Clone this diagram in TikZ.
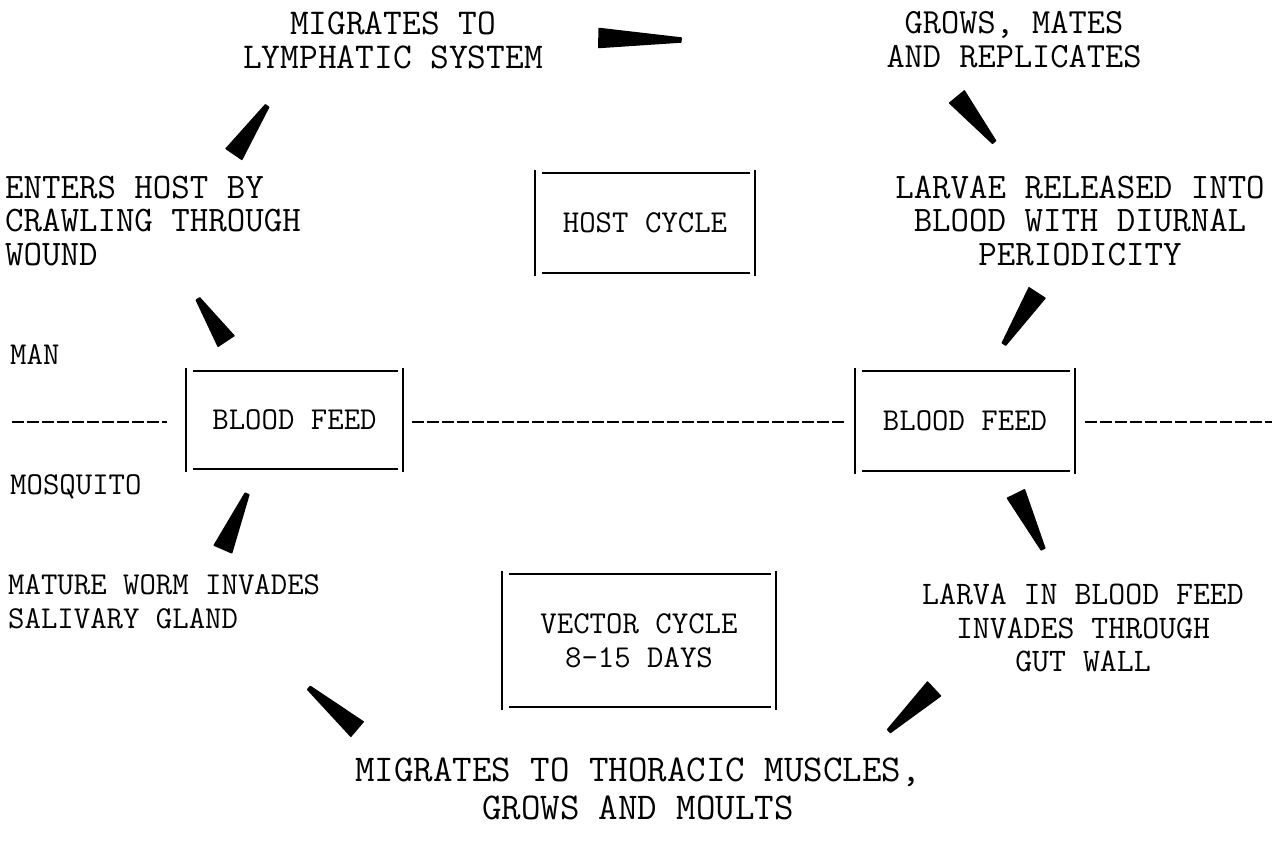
\documentclass[tikz,border=0pt]{standalone}
\usetikzlibrary{calc}
\newcommand\fillwedge[2]{%
  \filldraw[line width=1.5bp, line join=round]
    ($(#1)!9.5bp!90:(#2)$) -- ($(#2)!2bp!-90:(#1)$) --
    ($(#2)!2bp!90:(#1)$) -- ($(#1)!9.5bp!-90:(#2)$) -- cycle;}
\tikzset{
  txt/.style={font=\ttfamily\fontsize{#1}{34}\selectfont, inner sep=0pt, align=center},
  txtl/.style={font=\ttfamily\fontsize{#1}{34}\selectfont, inner sep=0pt, align=left, anchor=west},
  boxnode/.style={minimum width=#1, inner sep=0pt},
  sep/.style={line width=1.5bp, dash pattern=on 12bp off 3bp},
  edge/.style={line width=2bp}
}
\newcommand\typedbox[1]{%
  \draw[edge] ([yshift=2bp]#1.north west) -- ([yshift=-2bp]#1.south west);
  \draw[edge] ([yshift=2bp]#1.north east) -- ([yshift=-2bp]#1.south east);
  \draw[edge] ([xshift=7bp,yshift=-1bp]#1.north west) -- ([xshift=-5bp,yshift=-1bp]#1.north east);
  \draw[edge] ([xshift=7bp,yshift=1bp]#1.south west) -- ([xshift=-5bp,yshift=1bp]#1.south east);}
\begin{document}
\begin{tikzpicture}[x=1bp, y=-1bp]
\useasboundingbox (0,0) rectangle (1282,843);

% texts
\node[txt=36.5] (lym) at (393,40) {MIGRATES TO\\LYMPHATIC SYSTEM};
\node[txt=35.5] (grow) at (1014,40) {GROWS, MATES\\AND REPLICATES};
\node[txtl=36] (enter) at (5,221) {ENTERS HOST BY\\CRAWLING THROUGH\\WOUND};
\node[txt=36] (larvae) at (1080,221) {LARVAE RELEASED INTO\\BLOOD WITH DIURNAL\\PERIODICITY};
\node[txtl=32] (man) at (10,355) {MAN};
\node[txtl=32] (mos) at (10,487) {MOSQUITO};
\node[txtl=32] (mature) at (8,602) {MATURE WORM INVADES\\SALIVARY GLAND};
\node[txt=33] (larva) at (1083,628) {LARVA IN BLOOD FEED\\INVADES THROUGH\\GUT WALL};
\node[txt=38, font=\ttfamily\fontsize{38}{38}\selectfont] (thor) at (638,789) {MIGRATES TO THORACIC MUSCLES,\\GROWS AND MOULTS};

% boxes
\node[txt=32, boxnode=220bp, minimum height=102bp] (host) at (645,223) {HOST CYCLE};
\node[txt=32, boxnode=217bp, minimum height=100bp] (lbf) at (294.5,420) {BLOOD FEED};
\node[txt=32, boxnode=220bp, minimum height=102bp] (rbf) at (965,421) {BLOOD FEED};
\node[txt=32, boxnode=274bp, minimum height=135bp] (vec) at (639,640.5) {VECTOR CYCLE\\8\textendash15 DAYS};
\typedbox{host}
\typedbox{lbf}
\typedbox{rbf}
\typedbox{vec}

% man / mosquito separator
\coordinate (sepl) at (12,422);
\coordinate (sepr) at (1272,422);
\draw[sep, shorten >=19bp] (sepl) -- (sepl -| lbf.west);
\draw[sep, shorten <=9bp, shorten >=10bp] (lbf.east |- sepl) -- (rbf.west |- sepl);
\draw[sep, shorten <=10bp] (rbf.east |- sepl) -- (sepr);

% wedge arrows (tail -> head)
\coordinate (w1t) at (599,38);   \coordinate (w1h) at (681,40);
\coordinate (w2t) at (957,97);   \coordinate (w2h) at (994,142);
\coordinate (w3t) at (1037,293); \coordinate (w3h) at (1004,344);
\coordinate (w4t) at (1016,494); \coordinate (w4h) at (1043,549);
\coordinate (w5t) at (934,689);  \coordinate (w5h) at (889,731);
\coordinate (w6t) at (357,729);  \coordinate (w6h) at (309,688);
\coordinate (w7t) at (223,549);  \coordinate (w7h) at (247,494);
\coordinate (w8t) at (226,341);  \coordinate (w8h) at (198,299);
\coordinate (w9t) at (234,154);  \coordinate (w9h) at (267,106);
\fillwedge{w1t}{w1h}
\fillwedge{w2t}{w2h}
\fillwedge{w3t}{w3h}
\fillwedge{w4t}{w4h}
\fillwedge{w5t}{w5h}
\fillwedge{w6t}{w6h}
\fillwedge{w7t}{w7h}
\fillwedge{w8t}{w8h}
\fillwedge{w9t}{w9h}
\end{tikzpicture}
\end{document}
